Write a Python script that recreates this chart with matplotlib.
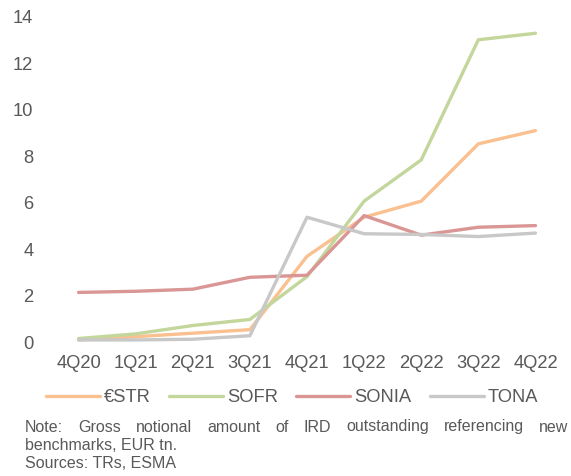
import matplotlib
matplotlib.use("Agg")
import matplotlib.pyplot as plt

plt.rcParams['font.family'] = ['Liberation Sans', 'DejaVu Sans']

quarters = ["4Q20", "1Q21", "2Q21", "3Q21", "4Q21", "1Q22", "2Q22", "3Q22", "4Q22"]
estr = [0.11, 0.25, 0.40, 0.55, 3.70, 5.38, 6.07, 8.53, 9.10]
sofr = [0.17, 0.37, 0.73, 0.99, 2.83, 6.07, 7.84, 13.00, 13.28]
sonia = [2.15, 2.20, 2.29, 2.80, 2.89, 5.45, 4.61, 4.95, 5.02]
tona = [0.11, 0.11, 0.14, 0.29, 5.38, 4.67, 4.64, 4.55, 4.70]
series_names = ["€STR", "SOFR", "SONIA", "TONA"]
series_colors = ["#FAC090", "#C3D69B", "#D99694", "#C8C8C8"]
yticks = [0, 2, 4, 6, 8, 10, 12, 14]

W, H = 571, 476
fig = plt.figure(figsize=(W / 100, H / 100), dpi=100)
ax = fig.add_axes([50 / W, 1 - 342.5 / H, (564 - 50) / W, (342.5 - 16.5) / H])

x = list(range(len(quarters)))
for vals, name, col in zip([estr, sofr, sonia, tona], series_names, series_colors):
    ax.plot(x, vals, color=col, lw=2.4, label=name, solid_capstyle='round', solid_joinstyle='round')

ax.set_xlim(-0.5, len(quarters) - 0.5)
ax.set_ylim(0, 14)
ax.set_yticks(yticks)
ax.set_xticks(x)
ax.set_xticklabels(quarters)
for s in ax.spines.values():
    s.set_visible(False)
ax.tick_params(axis='both', length=0, labelsize=13.2, colors='#595959')
ax.tick_params(axis='y', pad=12)
ax.tick_params(axis='x', pad=9)

handles, labels = ax.get_legend_handles_labels()
fig.legend(handles, labels, loc='center', bbox_to_anchor=(292 / W, 1 - 398 / H), ncol=4,
           frameon=False, fontsize=13.2, labelcolor='#595959', handlelength=2.95,
           handletextpad=0.22, columnspacing=1.0, borderaxespad=0, borderpad=0)

# Note text (first line justified)
note_fs = 11.5
fig.canvas.draw()
renderer = fig.canvas.get_renderer()
words = "Note: Gross notional amount of IRD outstanding referencing new".split()
x0, x1 = 25, 568
y1 = 1 - 427 / H
texts = []
widths = []
for w in words:
    t = fig.text(0, y1, w, fontsize=note_fs, color='#595959', va='center', ha='left')
    bb = t.get_window_extent(renderer)
    texts.append(t)
    widths.append(bb.width)
gap = (x1 - x0 - sum(widths)) / (len(words) - 1)
pos = x0
for t, wd in zip(texts, widths):
    t.set_x(pos / W)
    pos += wd + gap
fig.text(x0 / W, 1 - 445 / H, "benchmarks, EUR tn.", fontsize=note_fs, color='#595959', va='center', ha='left')
fig.text(x0 / W, 1 - 463 / H, "Sources: TRs, ESMA", fontsize=note_fs, color='#595959', va='center', ha='left')

fig.savefig("out.png", dpi=100, facecolor='white')
